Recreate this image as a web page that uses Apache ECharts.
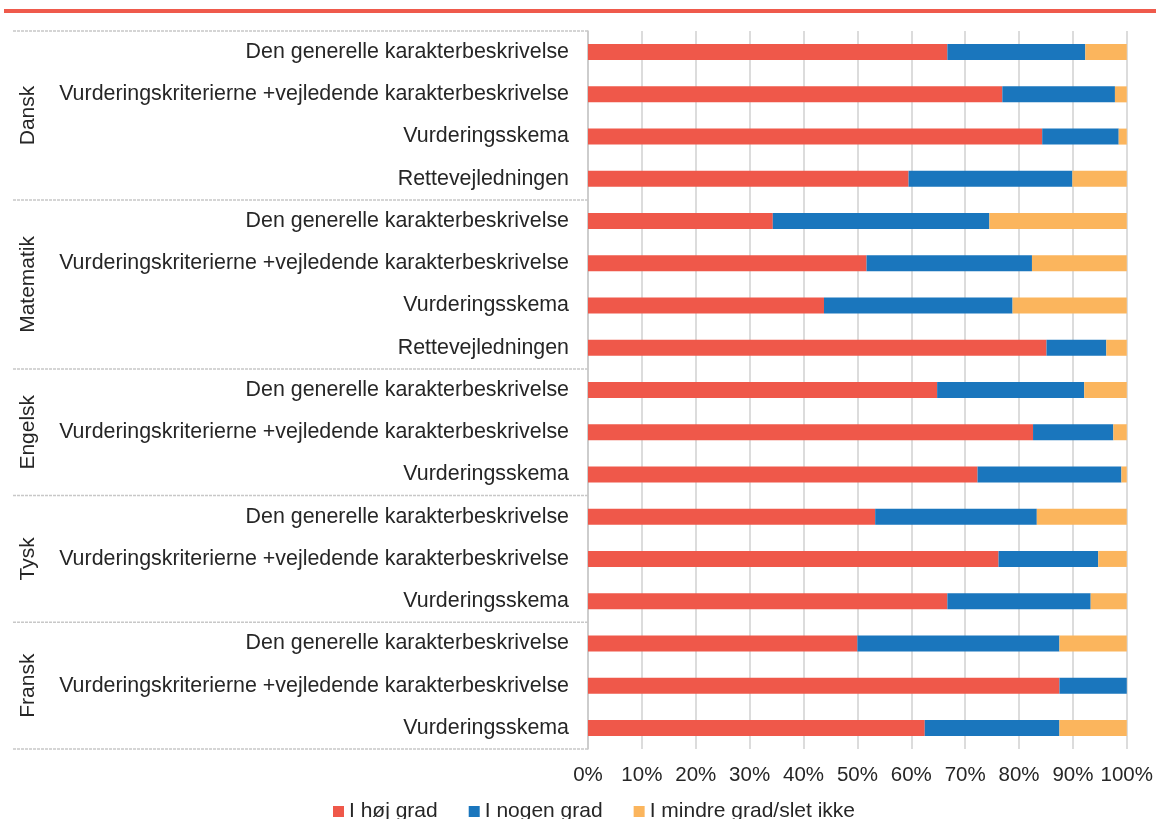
<!DOCTYPE html>
<html>
<head>
<meta charset="utf-8">
<script src="https://cdn.jsdelivr.net/npm/echarts@6/dist/echarts.min.js"></script>
<style>
  html, body { margin: 0; padding: 0; background: #ffffff; }
  #chart { width: 1156px; height: 819px; }
</style>
</head>
<body>
<div id="chart"></div>
<script>
// Subject groups and how many rows each one spans (top to bottom)
const groupNames = ['Dansk', 'Matematik', 'Engelsk', 'Tysk', 'Fransk'];
const groupSizes = [4, 4, 3, 3, 3];

// Row labels, top to bottom
const categories = [
  'Den generelle karakterbeskrivelse',
  'Vurderingskriterierne +vejledende karakterbeskrivelse',
  'Vurderingsskema',
  'Rettevejledningen',
  'Den generelle karakterbeskrivelse',
  'Vurderingskriterierne +vejledende karakterbeskrivelse',
  'Vurderingsskema',
  'Rettevejledningen',
  'Den generelle karakterbeskrivelse',
  'Vurderingskriterierne +vejledende karakterbeskrivelse',
  'Vurderingsskema',
  'Den generelle karakterbeskrivelse',
  'Vurderingskriterierne +vejledende karakterbeskrivelse',
  'Vurderingsskema',
  'Den generelle karakterbeskrivelse',
  'Vurderingskriterierne +vejledende karakterbeskrivelse',
  'Vurderingsskema'
];

// Shares in percent, one value per row
const hoejGrad   = [66.7, 76.9, 84.3, 59.5, 34.3, 51.7, 43.8, 85.1, 64.8, 82.6, 72.3, 53.3, 76.2, 66.7, 50.0, 87.5, 62.5];
const nogenGrad  = [25.6, 20.9, 14.2, 30.4, 40.2, 30.7, 35.0, 11.1, 27.3, 14.9, 26.7, 30.0, 18.5, 26.6, 37.5, 12.5, 25.0];
const mindreGrad = [ 7.7,  2.2,  1.5, 10.1, 25.5, 17.6, 21.2,  3.8,  7.9,  2.5,  1.0, 16.7,  5.3,  6.7, 12.5,  0.0, 12.5];

const seriesNames = ['I høj grad', 'I nogen grad', 'I mindre grad/slet ikke'];
const seriesColors = ['#EF584A', '#1A76BD', '#FBB55D'];

const FONT = '"Liberation Sans", Arial, sans-serif';
const TEXT = '#262626';

const chart = echarts.init(document.getElementById('chart'), null, { renderer: 'canvas' });

const values = [hoejGrad, nogenGrad, mindreGrad];

chart.setOption({
  animation: false,
  backgroundColor: '#ffffff',
  textStyle: { fontFamily: FONT },
  grid: { left: 588, right: 29, top: 31, bottom: 70, containLabel: false },
  legend: {
    data: seriesNames,
    top: 796,
    left: 328,
    icon: 'rect',
    itemWidth: 11,
    itemHeight: 11,
    itemGap: 31,
    textStyle: { fontSize: 21, color: TEXT, fontFamily: FONT }
  },
  xAxis: {
    type: 'value',
    min: 0,
    max: 100,
    interval: 10,
    axisLine: { show: false },
    axisTick: { show: false },
    axisLabel: {
      formatter: '{value}%',
      fontSize: 20.5,
      color: TEXT,
      fontFamily: FONT,
      margin: 16
    },
    splitLine: { show: true, lineStyle: { color: '#d0d0d0', width: 1.5 } }
  },
  yAxis: {
    type: 'category',
    inverse: true,
    data: categories,
    axisLine: { show: true, lineStyle: { color: '#c8c8c8', width: 1.5 } },
    axisTick: { show: false },
    axisLabel: {
      fontSize: 21.4,
      color: TEXT,
      fontFamily: FONT,
      margin: 19
    },
    splitLine: { show: false }
  },
  series: seriesNames.map((name, i) => ({
    name: name,
    type: 'bar',
    stack: 'total',
    barWidth: 16,
    itemStyle: { color: seriesColors[i] },
    data: values[i]
  }))
});

// Group separators and rotated group labels, placed with the category axis scale
function drawGroups() {
  const y0 = chart.convertToPixel({ yAxisIndex: 0 }, 0);
  const y1 = chart.convertToPixel({ yAxisIndex: 0 }, 1);
  const band = y1 - y0;
  const axisX = chart.convertToPixel({ xAxisIndex: 0 }, 0);
  const graphics = [
    // accent rule across the top of the figure
    { type: 'rect', shape: { x: 4, y: 9, width: 1152, height: 4 }, style: { fill: '#EF5A4C' } }
  ];
  let start = 0;
  const edges = [y0 - band / 2];
  groupNames.forEach((g, gi) => {
    const end = start + groupSizes[gi] - 1;
    const top = chart.convertToPixel({ yAxisIndex: 0 }, start) - band / 2;
    const bottom = chart.convertToPixel({ yAxisIndex: 0 }, end) + band / 2;
    edges.push(bottom);
    graphics.push({
      type: 'text',
      x: 28,
      y: (top + bottom) / 2,
      rotation: Math.PI / 2,
      style: {
        text: g,
        font: '21px ' + FONT,
        fill: TEXT,
        align: 'center',
        verticalAlign: 'middle'
      }
    });
    start = end + 1;
  });
  edges.forEach(y => {
    graphics.push({
      type: 'line',
      shape: { x1: 13, y1: y, x2: axisX, y2: y },
      style: { stroke: '#c8c8c8', lineWidth: 1.5, lineDash: [3, 1] }
    });
  });
  chart.setOption({ graphic: graphics });
}
drawGroups();
</script>
</body>
</html>
